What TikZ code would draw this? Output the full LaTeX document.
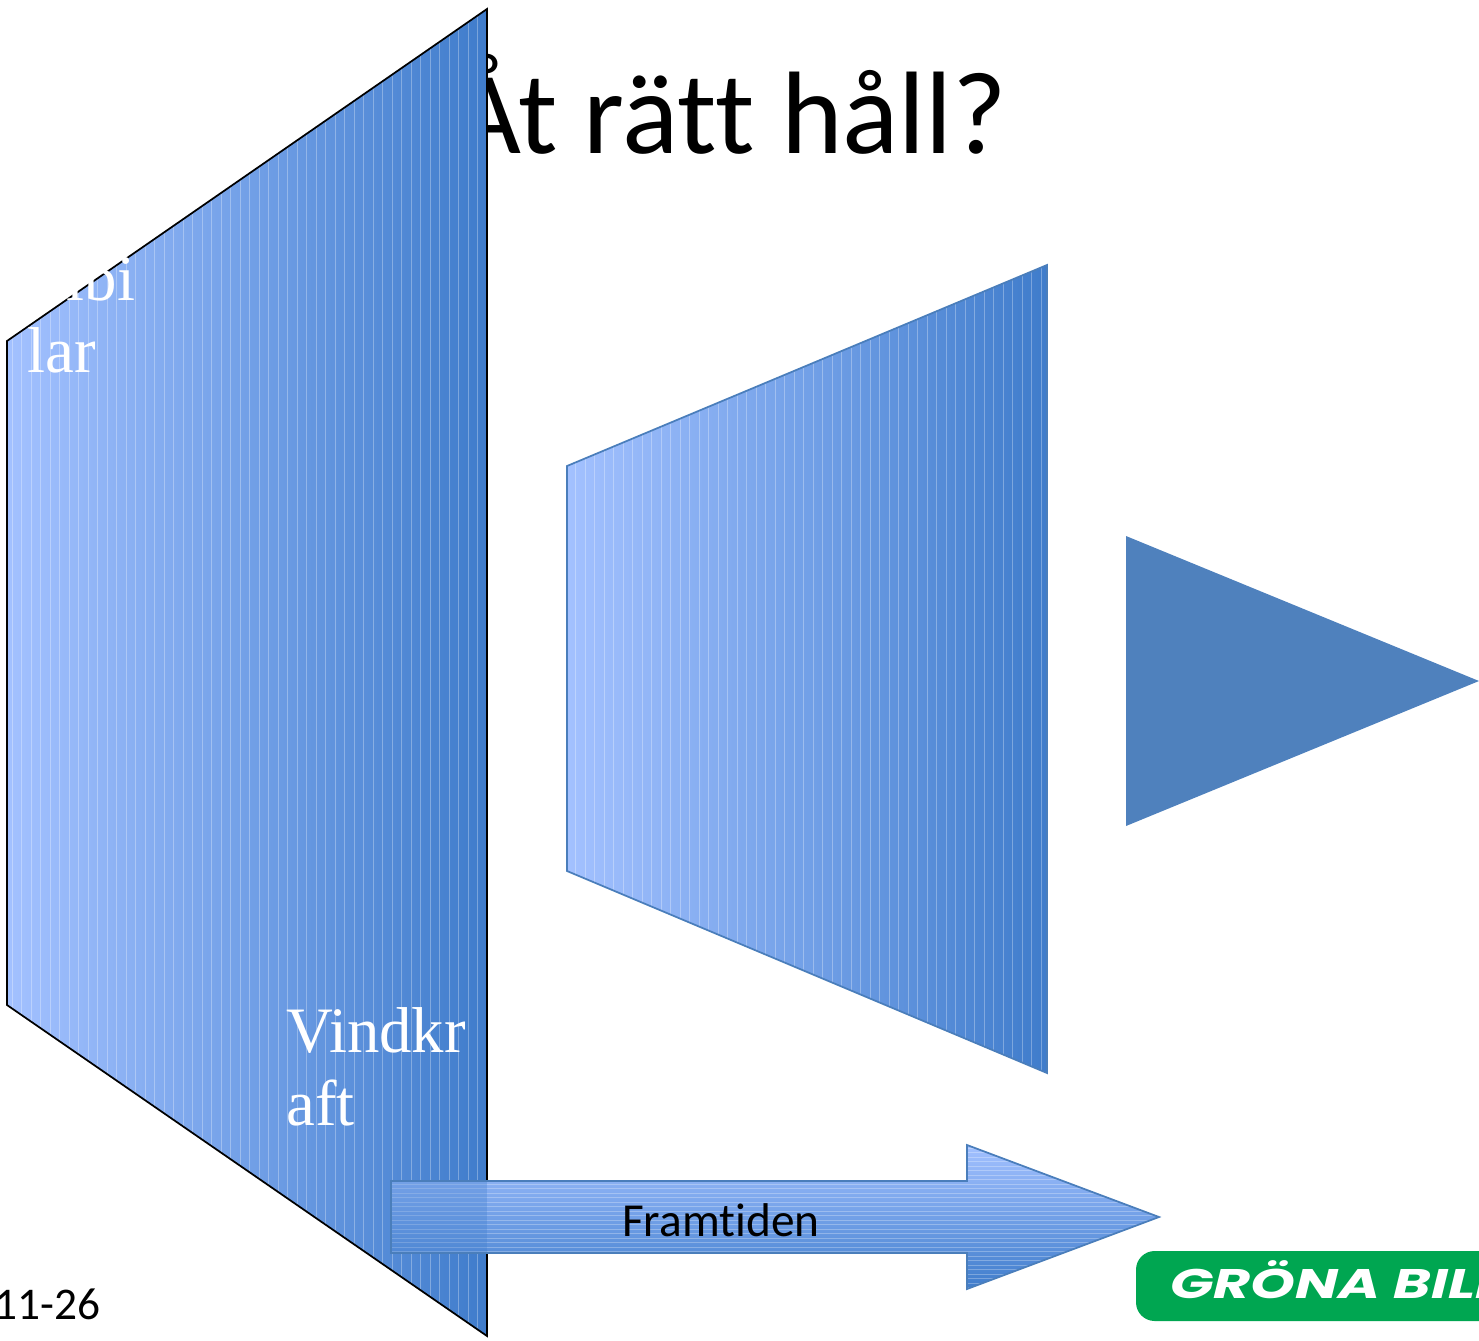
\documentclass[tikz,border=0pt]{standalone}
\usepackage{fontspec}
\setmainfont{Liberation Serif}
\newfontfamily\carlito[Ligatures=NoCommon]{Carlito}
\newfontfamily\logofont{Poppins}
\definecolor{gradL}{HTML}{A3C1FF}
\definecolor{gradM}{HTML}{72A0E7}
\definecolor{gradR}{HTML}{3F7CCB}
\definecolor{edgeblue}{HTML}{4A7EBB}
\definecolor{triblue}{HTML}{4F81BD}
\definecolor{logogreen}{HTML}{00A651}
\tikzset{
  px/.style={x=0.75pt,y=-0.75pt},
  serifwhite/.style={anchor=base west,inner sep=0pt,text=white,font=\fontsize{48.6}{50}\selectfont},
  hgrad/.style={left color=gradL,right color=gradR,middle color=gradM},
  vgrad/.style={top color=gradL,bottom color=gradR,middle color=gradM}
}
\begin{document}
\begin{tikzpicture}[px]
\useasboundingbox (0,0) rectangle (1479,1340);
\clip (0,0) rectangle (1479,1340);
% title
\node[anchor=base west,inner sep=0pt,font=\carlito\fontsize{88}{90}\selectfont] (title) at (453,153) {Åt rätt håll?};
% date
\node[anchor=base east,inner sep=0pt,font=\carlito\fontsize{34}{36}\selectfont] (date) at (101,1319) {11-26};
% left trapezoid
\shade[hgrad] (7,341) -- (487,9) -- (487,1336) -- (7,1005) -- cycle;
\begin{scope}
\clip (7,341) -- (487,9) -- (487,1336) -- (7,1005) -- cycle;
\foreach \x in {12,21,31,40,50,59,69,78,88,97,107,116,126,135,145,154,164,173,183,192,202,211,221,230,240,249,259,268,278,287,297,306,316,325,335,344,354,363,373,382,392,401,411,420,430,439,449,458,468,477}
  \draw[white,opacity=.3,line width=0.6pt] (\x,0) -- (\x,1340);
\end{scope}
\draw[black,line width=1.3pt,line join=miter] (7,341) -- (487,9) -- (487,1336) -- (7,1005) -- cycle;
% left trapezoid labels
\node[serifwhite] (elbi) at (27,300) {Elbi};
\node[serifwhite] (lar) at (27,372) {lar};
\node[serifwhite] (vind) at (286,1052) {Vindkr};
\node[serifwhite] (aft) at (286,1125) {aft};
% middle trapezoid
\shade[hgrad] (567,466) -- (1047,265) -- (1047,1073) -- (567,871) -- cycle;
\begin{scope}
\clip (567,466) -- (1047,265) -- (1047,1073) -- (567,871) -- cycle;
\foreach \x in {575,585,594,604,613,623,632,642,651,661,670,680,689,699,708,718,727,737,746,756,765,775,784,794,803,813,822,832,841,851,860,870,879,889,898,908,917,927,936,946,955,965,974,984,993,1003,1012,1022,1031,1041}
  \draw[white,opacity=.3,line width=0.6pt] (\x,200) -- (\x,1100);
\end{scope}
\draw[edgeblue,line width=1.3pt] (567,466) -- (1047,265) -- (1047,1073) -- (567,871) -- cycle;
% triangle
\fill[triblue] (1126,536) -- (1479,681) -- (1126,826) -- cycle;
% arrow
\shade[vgrad] (391,1181) -- (967,1181) -- (967,1145) -- (1159,1217) -- (967,1289) -- (967,1253) -- (391,1253) -- cycle;
\begin{scope}
\clip (391,1181) -- (967,1181) -- (967,1145) -- (1159,1217) -- (967,1289) -- (967,1253) -- (391,1253) -- cycle;
\foreach \y in {1148,1152.5,...,1288}
  \draw[white,opacity=.28,line width=0.7pt] (380,\y) -- (1165,\y);
\fill[gradR,opacity=.3] (391,1181) rectangle (487,1253);
\end{scope}
\draw[edgeblue,line width=1.3pt,line join=miter] (391,1181) -- (967,1181) -- (967,1145) -- (1159,1217) -- (967,1289) -- (967,1253) -- (391,1253) -- cycle;
\node[anchor=base west,inner sep=0pt,font=\carlito\fontsize{35.5}{38}\selectfont] (fram) at (622,1236) {Framtiden};
% logo
\fill[logogreen,rounded corners=14pt] (1136,1251) rectangle (1560,1321);
\node[anchor=base west,inner sep=0pt,text=white] (logo) at (1170,1298) {\scalebox{1.38}[1]{\logofont\fontsize{31}{33}\selectfont\bfseries\itshape GRÖNA BILI}};
\end{tikzpicture}
\end{document}
